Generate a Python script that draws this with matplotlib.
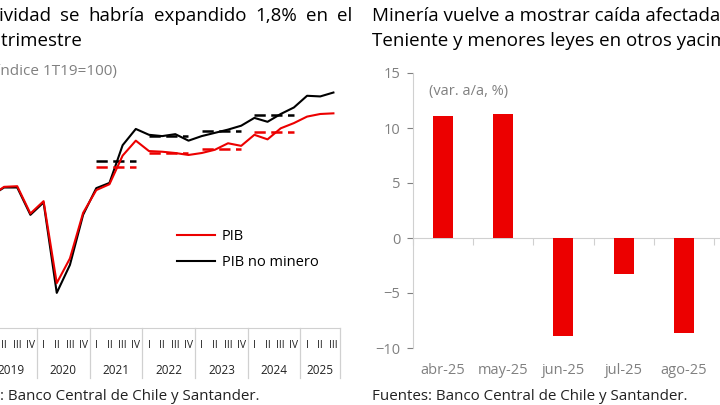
import numpy as np
import matplotlib.pyplot as plt
from matplotlib.transforms import IdentityTransform

plt.rcParams['font.family'] = ['Open Sans', 'DejaVu Sans']

# datos trimestrales (indice 1T19=100)
quarters = ['I', 'II', 'III', 'IV'] * 6 + ['I', 'II', 'III']
years = ['2019', '2020', '2021', '2022', '2023', '2024', '2025']
pib = [100.0, 101.4, 101.5, 97.3,
       99.2, 86.6, 90.4, 97.4,
       100.9, 101.8, 106.2, 108.5,
       106.9, 106.8, 106.6, 106.3,
       106.6, 107.1, 108.1, 107.7,
       109.4, 108.7, 110.4, 111.2,
       112.2, 112.6, 112.7]
pib_nm = [100.0, 101.3, 101.3, 97.1,
          99.0, 85.1, 89.4, 97.1,
          101.2, 102.0, 107.8, 110.3,
          109.4, 109.2, 109.5, 108.5,
          109.2, 109.7, 110.2, 110.8,
          112.0, 111.4, 112.6, 113.6,
          115.4, 115.3, 115.9]
# promedios anuales (lineas punteadas)
avg_years = ['2021', '2022', '2023', '2024']
avg_pib = [104.4, 106.6, 107.2, 109.8]
avg_pib_nm = [105.4, 109.2, 110.0, 112.4]

# mineria (var. a/a, %)
months = ['abr-25', 'may-25', 'jun-25', 'jul-25', 'ago-25', 'sep-25']
mineria = [11.1, 11.25, -8.9, -3.3, -8.6, -5.0]

RED = '#EC0000'
GRAY = '#808080'
LGRAY = '#d0d0d0'

W, H = 720, 405
fig = plt.figure(figsize=(W / 100, H / 100), dpi=100)

def box(x0, y0, x1, y1):
    # pixel box (desde arriba) -> fraccion de figura
    return [x0 / W, 1 - y1 / H, (x1 - x0) / W, (y1 - y0) / H]

def ptext(x, y, s, **kw):
    return fig.text(x, H - y, s, transform=IdentityTransform(), **kw)

def justify(words, x0, x1, y, **kw):
    r = fig.canvas.get_renderer()
    ts = [ptext(0, y, w, va='baseline', **kw) for w in words]
    ws = [t.get_window_extent(r).width for t in ts]
    gap = (x1 - x0 - sum(ws)) / (len(ws) - 1)
    x = x0
    for t, w in zip(ts, ws):
        t.set_x(x)
        x += w + gap

# ---------------- grafico izquierdo ----------------
ax = fig.add_axes(box(-15.7, 60, 340, 328))
x = np.arange(len(pib))
ax.plot(x, pib, color=RED, lw=1.5, label='PIB', zorder=3)
ax.plot(x, pib_nm, color='black', lw=1.5, label='PIB no minero', zorder=2)
for i, yr in enumerate(avg_years):
    k = years.index(yr) * 4
    ax.plot([k, k + 3], [avg_pib_nm[i]] * 2, color='black', lw=1.8, dashes=(4.5, 2.2))
    ax.plot([k, k + 3], [avg_pib[i]] * 2, color=RED, lw=1.8, dashes=(4.5, 2.2))
ax.set_xlim(-0.5, len(pib) - 0.5)
ax.set_ylim(79.7, 120.9)
for s in ['left', 'right', 'top']:
    ax.spines[s].set_visible(False)
ax.spines['bottom'].set_color(LGRAY)
ax.set_xticks([])
ax.set_yticks([])
ax.patch.set_alpha(0)

tr = ax.get_xaxis_transform()
for i, q in enumerate(quarters):
    ax.text(i, -0.067, q, transform=tr, ha='center', va='center',
            fontsize=7.5, color='#222222')
for j, yr in enumerate(years):
    n = quarters[j * 4:j * 4 + 4]
    c = j * 4 + (len(n) - 1) / 2
    ax.text(c, -0.157, yr, transform=tr, ha='center', va='center',
            fontsize=8.5, color='#222222')
    ax.plot([j * 4 - 0.5] * 2, [0, -0.187], transform=tr, color=LGRAY,
            lw=0.9, clip_on=False)
ax.plot([len(pib) - 0.5] * 2, [0, -0.187], transform=tr, color=LGRAY,
        lw=0.9, clip_on=False)

leg = ax.legend(loc='upper left', bbox_to_anchor=(164 / W, 1 - 216 / H),
                bbox_transform=fig.transFigure, frameon=False, fontsize=10.5,
                handlelength=2.6, handletextpad=0.45, labelspacing=0.75)

justify(['La', 'actividad', 'se', 'habría', 'expandido', '1,8%', 'en', 'el'],
        -56, 352, 21, fontsize=13.5, color='black')
ptext(-56, 46, 'tercer trimestre', va='baseline', fontsize=13.5, color='black')
ptext(117, 71, '(índice 1T19=100)', ha='right', va='center', fontsize=11,
      color=GRAY)
ptext(-56, 400, 'Fuentes: Banco Central de Chile y Santander.', va='baseline',
      fontsize=10.9, color='#222222')

# ---------------- grafico derecho ----------------
ax2 = fig.add_axes(box(413, 73, 774, 348))
xm = np.arange(len(months))
ax2.bar(xm, mineria, width=0.33, color=RED, zorder=3)
ax2.set_xlim(-0.5, len(months) - 0.5)
ax2.set_ylim(-10, 15)
ax2.set_yticks(np.arange(-10, 16, 5))
ax2.tick_params(axis='y', colors=GRAY, labelsize=10.5, length=4, width=0.8,
                pad=5)
ax2.spines['left'].set_color(LGRAY)
ax2.spines['bottom'].set_position(('data', 0))
ax2.spines['bottom'].set_color(LGRAY)
ax2.spines['right'].set_visible(False)
ax2.spines['top'].set_visible(False)
ax2.set_xticks(np.arange(len(months) + 1) - 0.5)
ax2.set_xticklabels([])
ax2.tick_params(axis='x', colors=LGRAY, length=5, width=0.8)
ax2.patch.set_alpha(0)
tr2 = ax2.get_xaxis_transform()
for i, m in enumerate(months):
    ax2.text(i, -0.08, m, transform=tr2, ha='center', va='center',
             fontsize=10.5, color=GRAY)
ptext(429, 92, '(var. a/a, %)', va='center', fontsize=10.5, color=GRAY)

ptext(372, 21, 'Minería vuelve a mostrar caída afectada por El', va='baseline',
      fontsize=13.5, color='black')
ptext(372, 46, 'Teniente y menores leyes en otros yacimientos', va='baseline',
      fontsize=13.5, color='black')
ptext(372, 400, 'Fuentes: Banco Central de Chile y Santander.', va='baseline',
      fontsize=10.9, color='#222222')

fig.savefig('out.png', dpi=100)
